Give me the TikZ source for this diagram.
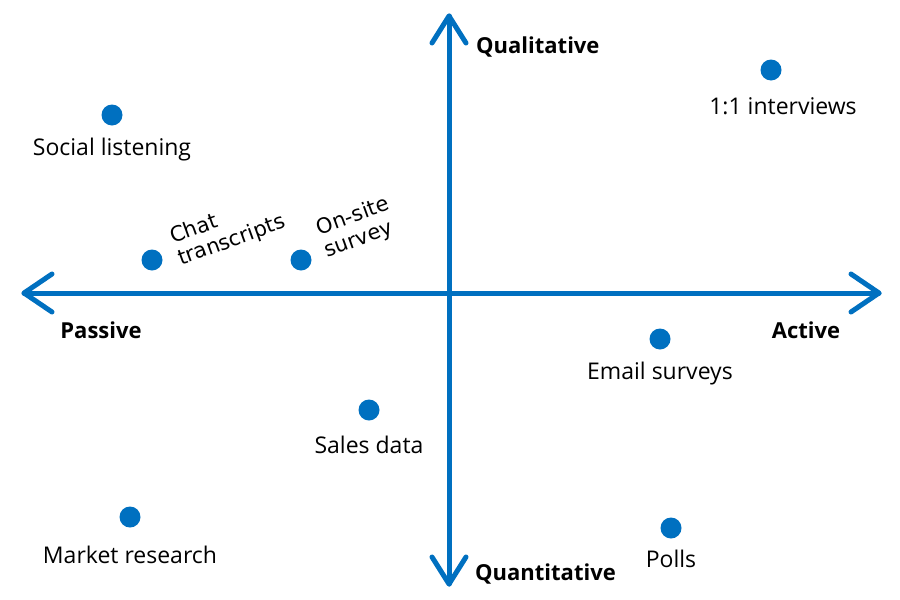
\documentclass[tikz,border=0pt]{standalone}
\usepackage{fontspec}
\setmainfont{Open Sans}
\newfontfamily\rotfont{DejaVu Sans}
\definecolor{axisblue}{HTML}{0070C0}
\begin{document}
\begin{tikzpicture}[x=1pt,y=-1pt,
  axisline/.style={draw=axisblue,line width=5pt,line cap=round,line join=round},
  dot/.style={circle,fill=axisblue,minimum size=21pt,inner sep=0pt},
  lbl/.style={font=\fontsize{23}{26}\selectfont,text=black,inner sep=0pt},
  axlbl/.style={font=\fontsize{22}{25}\selectfont\bfseries,text=black,inner sep=0pt},
  rotlbl/.style={font=\rotfont\fontsize{21}{23.5}\selectfont,text=black,inner sep=0pt,rotate=20,align=left}]
\useasboundingbox (0,0) rectangle (900,600);
% axes
\coordinate (L) at (24,293);
\coordinate (R) at (879,293);
\coordinate (T) at (449,16);
\coordinate (B) at (449,584);
\draw[axisline] (L) -- (R);
\draw[axisline] (T) -- (B);
\draw[axisline] ([shift={(28,-19)}]L) -- (L) -- ([shift={(28,19)}]L);
\draw[axisline] ([shift={(-28,-19)}]R) -- (R) -- ([shift={(-28,19)}]R);
\draw[axisline] ([shift={(-17,27)}]T) -- (T) -- ([shift={(17,27)}]T);
\draw[axisline] ([shift={(-17,-27)}]B) -- (B) -- ([shift={(17,-27)}]B);
% axis labels
\node[axlbl,anchor=west] (qual) at (476,47) {Qualitative};
\node[axlbl,anchor=west] (quant) at (475,574) {Quantitative};
\node[axlbl] (pass) at (101,330) {Passive};
\node[axlbl] (act) at (806,330) {Active};
% points
\node[dot] (d1) at (771,70) {};
\node[lbl] (t1) at (783,106) {1:1 interviews};
\node[dot] (d2) at (112,115) {};
\node[lbl] (t2) at (112,150) {Social listening};
\node[dot] (d3) at (152,260) {};
\node[rotlbl] (t3) at (228,230) {Chat\\transcripts};
\node[dot] (d4) at (301,260) {};
\node[rotlbl] (t4) at (357,228) {On-site\\survey};
\node[dot] (d5) at (660,339) {};
\node[lbl] (t5) at (660,374) {Email surveys};
\node[dot] (d6) at (369,410) {};
\node[lbl] (t6) at (369,445) {Sales data};
\node[dot] (d7) at (130,517) {};
\node[lbl] (t7) at (130,555) {Market research};
\node[dot] (d8) at (671,528) {};
\node[lbl] (t8) at (671,559) {Polls};
\end{tikzpicture}
\end{document}
